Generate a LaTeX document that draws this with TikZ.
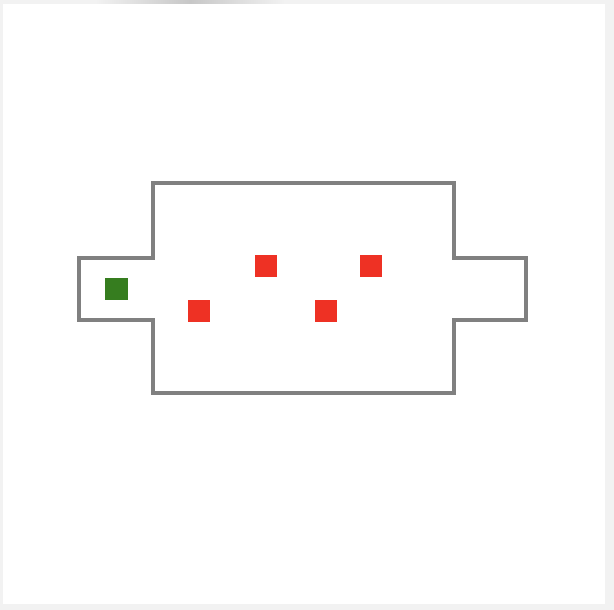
\documentclass[tikz,border=0pt]{standalone}
\usepackage{tikz}
\usetikzlibrary{shapes}
\definecolor{wallgray}{HTML}{808080}
\definecolor{bggray}{HTML}{F2F2F2}
\definecolor{goalgreen}{HTML}{367D1F}
\definecolor{boxred}{HTML}{EE3124}
\begin{document}
\begin{tikzpicture}[x=1pt,y=-1pt,
  cell/.style={shape=rectangle,inner sep=0pt,minimum size=22.5pt},
  agent/.style={cell,fill=goalgreen},
  block/.style={cell,fill=boxred}]
\useasboundingbox(0,0)rectangle(614,610);
\path[fill=bggray](0,0)rectangle(614,610);
\shade[left color=bggray,right color=bggray,middle color=black!22](95,0)rectangle(285,4);
\path[fill=white](3,4)rectangle(605,604);
\draw[wallgray,line width=3.8pt,line join=miter](79,258)--(153,258)--(153,183)--(454,183)--(454,258)--(526,258)
--(526,320)--(454,320)--(454,393)--(153,393)--(153,320)--(79,320)--cycle;
\node[agent](g1)at(116.5,289){};
\node[block](r1)at(199,311){};
\node[block](r2)at(266,266){};
\node[block](r3)at(326,311){};
\node[block](r4)at(371,266){};
\end{tikzpicture}
\end{document}
